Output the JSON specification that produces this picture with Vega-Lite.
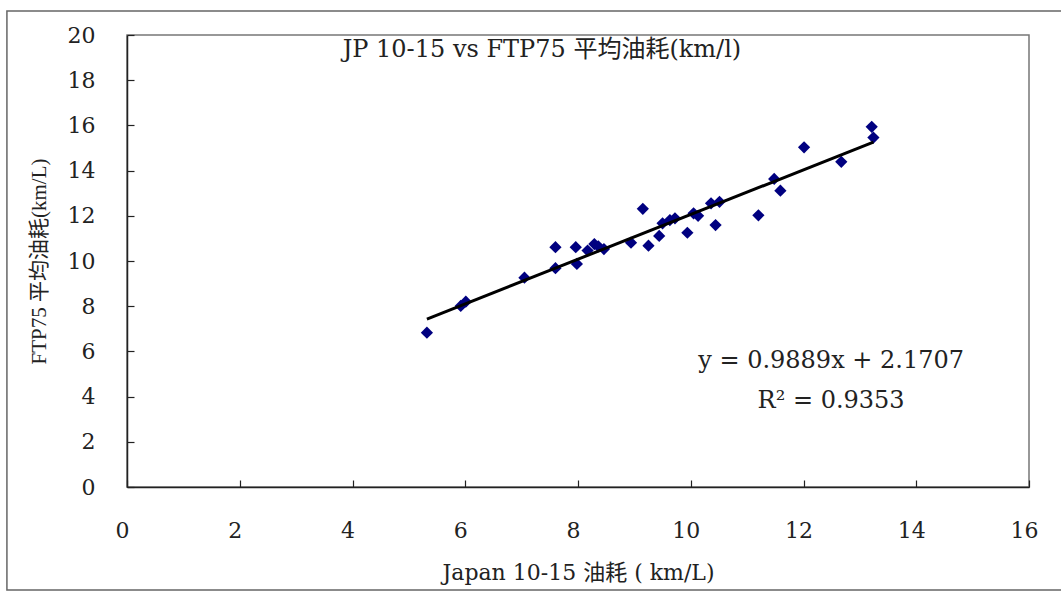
{
  "$schema": "https://vega.github.io/schema/vega-lite/v6.json",
  "width": 902,
  "height": 452,
  "autosize": {"type": "none"},
  "padding": {"left": 127, "top": 35, "right": 32, "bottom": 105},
  "background": "white",
  "config": {
    "view": {"stroke": "#777777", "strokeWidth": 1.5},
    "font": "'DejaVu Serif', 'Noto Sans CJK TC', serif",
    "axis": {
      "grid": false,
      "domainColor": "#222222",
      "domainWidth": 1.5,
      "tickColor": "#222222",
      "tickWidth": 1.2,
      "tickSize": -7,
      "labelFlush": false,
      "labelFont": "'DejaVu Serif', serif",
      "labelFontSize": 22,
      "labelColor": "#222222",
      "titleFontWeight": "normal",
      "titleColor": "#222222"
    }
  },
  "datasets": {
    "points": [
      {"jp": 5.32, "ftp": 6.83},
      {"jp": 5.92, "ftp": 8.01},
      {"jp": 6.01, "ftp": 8.20},
      {"jp": 7.05, "ftp": 9.26},
      {"jp": 7.60, "ftp": 10.61},
      {"jp": 7.60, "ftp": 9.68},
      {"jp": 7.96, "ftp": 10.61},
      {"jp": 7.98, "ftp": 9.87},
      {"jp": 8.17, "ftp": 10.46},
      {"jp": 8.29, "ftp": 10.75},
      {"jp": 8.36, "ftp": 10.65},
      {"jp": 8.46, "ftp": 10.53},
      {"jp": 8.94, "ftp": 10.81},
      {"jp": 9.15, "ftp": 12.31},
      {"jp": 9.25, "ftp": 10.68},
      {"jp": 9.44, "ftp": 11.11},
      {"jp": 9.50, "ftp": 11.67},
      {"jp": 9.63, "ftp": 11.81},
      {"jp": 9.72, "ftp": 11.89},
      {"jp": 9.94, "ftp": 11.25},
      {"jp": 10.05, "ftp": 12.11},
      {"jp": 10.13, "ftp": 12.00},
      {"jp": 10.36, "ftp": 12.55},
      {"jp": 10.44, "ftp": 11.59},
      {"jp": 10.51, "ftp": 12.62},
      {"jp": 11.20, "ftp": 12.02},
      {"jp": 11.48, "ftp": 13.63},
      {"jp": 11.59, "ftp": 13.11},
      {"jp": 12.01, "ftp": 15.03},
      {"jp": 12.67, "ftp": 14.39},
      {"jp": 13.21, "ftp": 15.94},
      {"jp": 13.24, "ftp": 15.46}
    ],
    "trend": [
      {"jp": 5.32, "ftp": 7.43},
      {"jp": 13.24, "ftp": 15.26}
    ],
    "labels": [
      {"jp": 7.36, "ftp": 19.34, "text": "JP 10-15  vs FTP75 平均油耗(km/l)"},
      {"jp": 12.49, "ftp": 5.58, "text": "y = 0.9889x + 2.1707"},
      {"jp": 12.49, "ftp": 3.81, "text": "R² = 0.9353"}
    ]
  },
  "layer": [
    {
      "data": {"values": [{}]},
      "mark": {"type": "rect", "fill": "transparent", "stroke": "#666666", "strokeWidth": 1.5, "clip": false},
      "encoding": {
        "x": {"datum": -2.13, "type": "quantitative"},
        "x2": {"datum": 18},
        "y": {"datum": 21.06, "type": "quantitative"},
        "y2": {"datum": -4.56}
      }
    },
    {
      "data": {"name": "points"},
      "mark": {"type": "point", "shape": "diamond", "filled": true, "size": 150, "color": "#000080", "opacity": 1},
      "encoding": {
        "x": {
          "field": "jp", "type": "quantitative",
          "scale": {"domain": [0, 16], "nice": false, "zero": false},
          "axis": {"values": [0, 2, 4, 6, 8, 10, 12, 14, 16], "format": "d", "labelPadding": 40, "labelOffset": -5, "title": "Japan 10-15 油耗 ( km/L)", "titleFont": "'DejaVu Serif', 'Noto Sans CJK TC', serif", "titleFontSize": 22, "titlePadding": 21}
        },
        "y": {
          "field": "ftp", "type": "quantitative",
          "scale": {"domain": [0, 20], "nice": false, "zero": false},
          "axis": {"values": [0, 2, 4, 6, 8, 10, 12, 14, 16, 18, 20], "format": "d", "labelPadding": 39, "title": "FTP75 平均油耗(km/L)", "titleFont": "'Liberation Serif', 'Noto Sans CJK TC', serif", "titleFontSize": 21, "titlePadding": 18}
        }
      }
    },
    {
      "data": {"name": "trend"},
      "mark": {"type": "line", "color": "#000000", "strokeWidth": 3},
      "encoding": {
        "x": {"field": "jp", "type": "quantitative"},
        "y": {"field": "ftp", "type": "quantitative"}
      }
    },
    {
      "data": {"name": "labels"},
      "mark": {"type": "text", "fontSize": 24, "font": "'DejaVu Serif', 'Noto Sans CJK TC', serif", "color": "#222222", "align": "center", "baseline": "middle"},
      "encoding": {
        "x": {"field": "jp", "type": "quantitative"},
        "y": {"field": "ftp", "type": "quantitative"},
        "text": {"field": "text"}
      }
    }
  ]
}
